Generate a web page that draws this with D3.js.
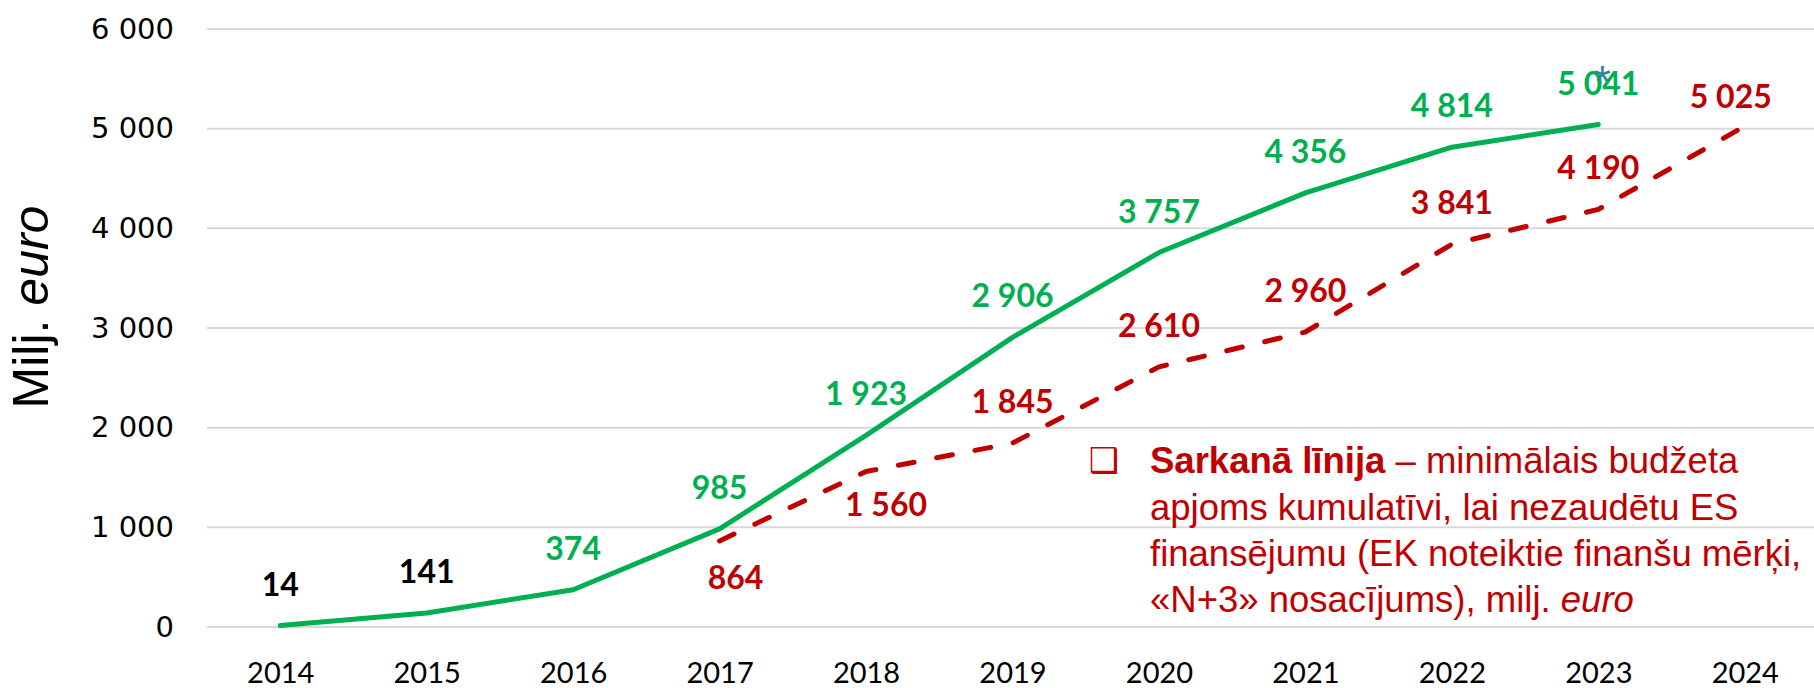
<!DOCTYPE html>
<html>
<head>
<meta charset="utf-8">
<script src="https://cdn.jsdelivr.net/npm/d3@7"></script>
<style>
  body { margin: 0; background: #fff; }
  svg { display: block; }
</style>
</head>
<body>
<svg id="chart" width="1814" height="688"></svg>
<script>
var years = [2014, 2015, 2016, 2017, 2018, 2019, 2020, 2021, 2022, 2023, 2024];
var greenYears = [2014, 2015, 2016, 2017, 2018, 2019, 2020, 2021, 2022, 2023];
var greenValues = [14, 141, 374, 985, 1923, 2906, 3757, 4356, 4814, 5041];
var redYears = [2017, 2018, 2019, 2020, 2021, 2022, 2023, 2024];
var redValues = [864, 1560, 1845, 2610, 2960, 3841, 4190, 5025];
var redLabelSide = ["below", "below", "above", "above", "above", "above", "above", "above"];
var yTicks = [0, 1000, 2000, 3000, 4000, 5000, 6000];

var GREEN = "#00B050", RED = "#C00000";

var svg = d3.select("#chart");

var x = d3.scalePoint()
	.domain(years)
	.range([207, 1818])
	.padding(0.5);

var y = d3.scaleLinear()
	.domain([0, 6000])
	.range([627, 29]);

var fmt = function(v) { return d3.format(",")(v).replace(/,/g, " "); };

// gridlines
svg.append("g")
	.selectAll("line")
	.data(yTicks)
	.enter()
	.append("line")
	.attr("x1", 207)
	.attr("x2", 1814)
	.attr("y1", function(d) { return y(d); })
	.attr("y2", function(d) { return y(d); })
	.attr("stroke", "#D9D9D9")
	.attr("stroke-width", 2);

// y axis
var yAxis = svg.append("g")
	.attr("transform", "translate(207,0)")
	.call(d3.axisLeft(y).tickValues(yTicks).tickSize(0).tickPadding(33).tickFormat(fmt));
yAxis.select(".domain").remove();
yAxis.selectAll("text")
	.attr("font-family", "DejaVu Sans")
	.attr("font-size", 29)
	.attr("fill", "#000");

// x axis
var xAxis = svg.append("g")
	.attr("transform", "translate(0,627)")
	.call(d3.axisBottom(x).tickSize(0).tickPadding(35));
xAxis.select(".domain").remove();
xAxis.selectAll("text")
	.attr("font-family", "Lato")
	.attr("font-size", 29)
	.attr("fill", "#000");

// y title
var title = svg.append("text")
	.attr("transform", "translate(48,307) rotate(-90)")
	.attr("text-anchor", "middle")
	.attr("font-family", "Liberation Sans")
	.attr("font-size", 50)
	.attr("fill", "#000");
title.append("tspan").text("Milj. ");
title.append("tspan").attr("font-style", "italic").text("euro");

// lines
var line = d3.line()
	.x(function(d) { return x(d[0]); })
	.y(function(d) { return y(d[1]); });

svg.append("path")
	.datum(d3.zip(redYears, redValues))
	.attr("d", line)
	.attr("fill", "none")
	.attr("stroke", RED)
	.attr("stroke-width", 5)
	.attr("stroke-dasharray", "16,23")
	.attr("stroke-linecap", "round")
	.attr("stroke-linejoin", "round");

svg.append("path")
	.datum(d3.zip(greenYears, greenValues))
	.attr("d", line)
	.attr("fill", "none")
	.attr("stroke", GREEN)
	.attr("stroke-width", 5)
	.attr("stroke-linecap", "round")
	.attr("stroke-linejoin", "round");

// data labels
svg.append("g")
	.selectAll("text")
	.data(d3.zip(greenYears, greenValues))
	.enter()
	.append("text")
	.attr("x", function(d) { return x(d[0]); })
	.attr("y", function(d) { return y(d[1]) - 30; })
	.attr("text-anchor", "middle")
	.attr("font-family", "Lato")
	.attr("font-weight", "bold")
	.attr("font-size", 32)
	.attr("fill", function(d) { return d[0] < 2016 ? "#000" : GREEN; })
	.text(function(d) { return fmt(d[1]); });

svg.append("g")
	.selectAll("text")
	.data(d3.zip(redYears, redValues, redLabelSide))
	.enter()
	.append("text")
	.attr("x", function(d) {
		if (d[0] == 2018) return x(d[0]) + 20;
		if (d[0] == 2024) return x(d[0]) - 14;
		return x(d[0]) + (d[0] == 2017 ? 16 : 0);
	})
	.attr("y", function(d) {
		if (d[0] == 2024) return y(d[1]) - 18;
		if (d[2] == "below") return y(d[1]) + (d[0] == 2018 ? 44 : 48);
		return y(d[1]) - 30;
	})
	.attr("text-anchor", "middle")
	.attr("font-family", "Lato")
	.attr("font-weight", "bold")
	.attr("font-size", 32)
	.attr("fill", RED)
	.text(function(d) { return fmt(d[1]); });

// asterisk next to the last green value
svg.append("text")
	.attr("x", x(2023) + 4)
	.attr("y", y(greenValues[greenValues.length - 1]) - 28)
	.attr("text-anchor", "middle")
	.attr("font-family", "Liberation Sans")
	.attr("font-size", 44)
	.attr("fill", "#31849B")
	.text("*");

// legend note
svg.append("text")
	.attr("x", 1104)
	.attr("y", 472)
	.attr("text-anchor", "middle")
	.attr("font-family", "DejaVu Sans")
	.attr("font-size", 34)
	.attr("fill", RED)
	.text("\u2751");

var note = svg.append("g")
	.attr("transform", "translate(1150,0)")
	.attr("font-family", "Liberation Sans")
	.attr("font-size", 36.5)
	.attr("fill", RED);

var l1 = note.append("text").attr("y", 473);
l1.append("tspan").attr("font-weight", "bold").text("Sarkanā līnija");
l1.append("tspan").text(" – minimālais budžeta");
note.append("text").attr("y", 520).text("apjoms kumulatīvi, lai nezaudētu ES");
note.append("text").attr("y", 566).text("finansējumu (EK noteiktie finanšu mērķi,");
var l4 = note.append("text").attr("y", 612);
l4.append("tspan").text("«N+3» nosacījums), milj. ");
l4.append("tspan").attr("font-style", "italic").text("euro");
</script>
</body>
</html>
